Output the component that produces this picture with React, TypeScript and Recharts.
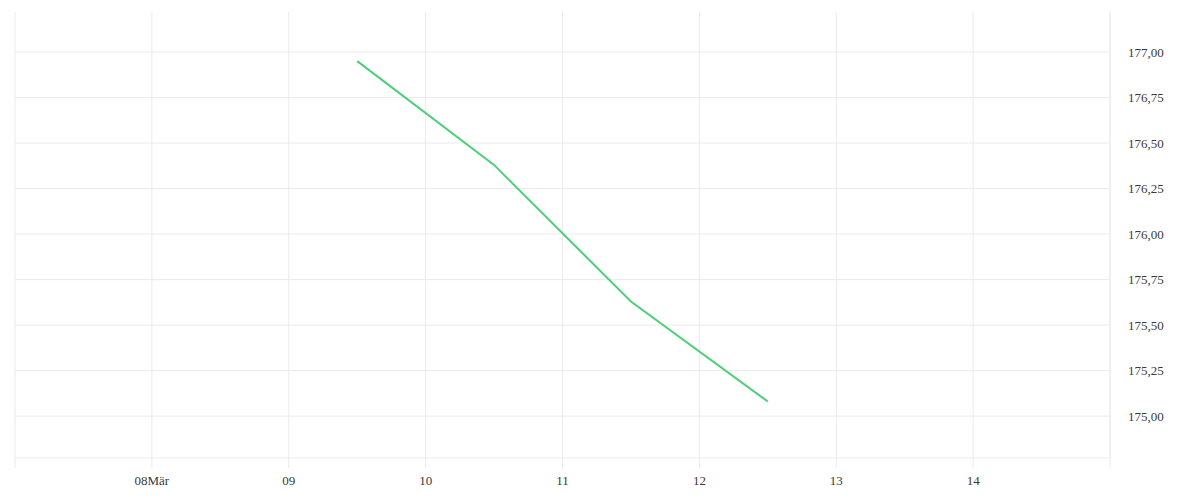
import React from "react";
import { LineChart, Line, XAxis, YAxis, CartesianGrid } from "recharts";

const dayPositions = [9.5, 10.5, 11.5, 12.5];
const prices = [176.95, 176.38, 175.63, 175.08];
const xTicks = [7, 8, 9, 10, 11, 12, 13, 14, 15];
const xTickLabels = ["", "08Mär", "09", "10", "11", "12", "13", "14", ""];
const yTicks = [175, 175.25, 175.5, 175.75, 176, 176.25, 176.5, 176.75, 177];

const data = dayPositions.map((d, i) => ({ day: d, price: prices[i] }));

const GRID = "#ebebeb";

const horizGen = (props: any) => {
  try {
    const s = props?.yAxis?.scale;
    if (typeof s === "function") return yTicks.map((t) => s(t));
    if (s && typeof s.map === "function") return yTicks.map((t) => s.map(t));
    if (s && typeof s.scale === "function") return yTicks.map((t) => s.scale(t));
  } catch (e) {
    // ignore
  }
  return [];
};

export default function App() {
  return (
    <div style={{ width: 1184, height: 484 }}>
      <LineChart
        width={1184}
        height={484}
        data={data}
        margin={{ top: 4, right: 0, bottom: 4, left: 7 }}
      >
        <CartesianGrid
          stroke={GRID}
          strokeWidth={1}
          horizontalCoordinatesGenerator={horizGen}
        />
        <XAxis
          dataKey="day"
          type="number"
          domain={[7, 15]}
          ticks={xTicks}
          tickFormatter={(v: number) => xTickLabels[xTicks.indexOf(v)] ?? ""}
          axisLine={{ stroke: GRID }}
          tickLine={{ stroke: GRID }}
          tickSize={10}
          tickMargin={8}
          height={30}
          tick={{ fill: "#3a3a3a", fontSize: 13 }}
          interval={0}
        />
        <YAxis
          orientation="right"
          type="number"
          domain={[174.77, 177.22]}
          ticks={yTicks}
          tickFormatter={(v: number) => v.toFixed(2).replace(".", ",")}
          axisLine={{ stroke: GRID }}
          tickLine={false}
          tickSize={0}
          tickMargin={18}
          width={82}
          tick={{ fill: "#3a3a3a", fontSize: 13, textAnchor: "start" }}
          interval={0}
          allowDataOverflow
        />
        <Line
          type="linear"
          dataKey="price"
          stroke="#4ccf78"
          strokeWidth={2}
          dot={false}
          isAnimationActive={false}
        />
      </LineChart>
    </div>
  );
}
